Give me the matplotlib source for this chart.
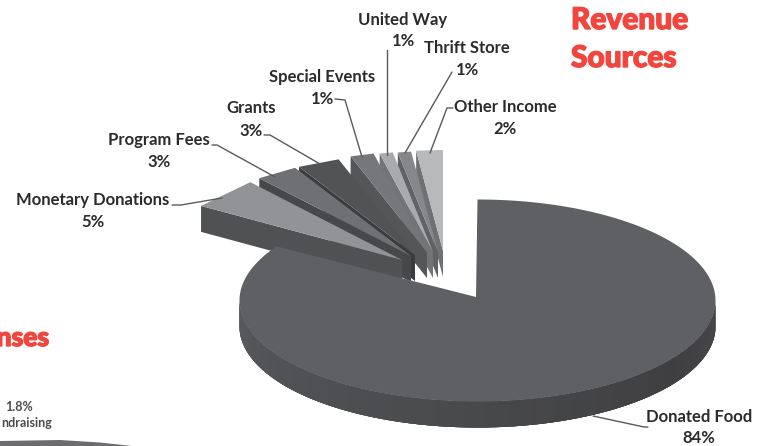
import numpy as np
import matplotlib
matplotlib.use("Agg")
import matplotlib.pyplot as plt
import matplotlib.patheffects as pe
from matplotlib.colors import to_rgb
from matplotlib.patches import Polygon

# slice shares, labels are the printed ones
slices = ["Donated Food", "Monetary Donations", "Program Fees", "Grants",
          "Special Events", "United Way", "Thrift Store", "Other Income"]
shares = [84.0, 5.0, 2.9, 2.9, 1.6, 0.9, 0.9, 1.8]
percents = ["84%", "5%", "3%", "3%", "1%", "1%", "1%", "2%"]

top_colors = ["#5f6064", "#929396", "#6f7073", "#525355", "#76777a", "#a9aaad", "#86878a", "#b8b9bb"]
side_colors = ["#4a4a4d", "#505153", "#47484a", "#3c3c3e", "#555658", "#737476", "#616264", "#707173"]

# where each exploded slice has its point, pixel coords
apex_x = [476, 402, 411, 415, 427, 433, 438, 443]
apex_y = [297, 260, 256, 255, 252, 252, 252, 251]

RX, RY = 238, 101
DEPTH = 26
TEXT = "#2b2b2d"
LINE = "#5a5a5c"
RED = "#f1453d"


def rim(a0, a1, ax0, ay0, n=60):
    """Outer rim of a slice, angles in degrees clockwise from 12 o'clock."""
    t = np.radians(np.linspace(a0, a1, n))
    return ax0 + RX * np.sin(t), ay0 - RY * np.cos(t)


fig = plt.figure(figsize=(7.62, 4.46), dpi=100)
ax = fig.add_axes([0, 0, 1, 1])
ax.set_xlim(0, 762)
ax.set_ylim(446, 0)
ax.axis("off")

edges = np.concatenate([[0], np.cumsum(shares) / np.sum(shares) * 360])

# exploded slices, right one first so the left ones sit on top
for i in range(len(slices) - 1, 0, -1):
    x, y = rim(edges[i], edges[i + 1], apex_x[i], apex_y[i], n=2)
    side = [(x[0], y[0]), (x[0], y[0] + DEPTH), (apex_x[i], apex_y[i] + DEPTH), (apex_x[i], apex_y[i])]
    ax.add_patch(Polygon(side, closed=True, fc=side_colors[i], ec="none", zorder=2))
    pts = np.column_stack([np.r_[apex_x[i], x], np.r_[apex_y[i], y]])
    ax.add_patch(Polygon(pts, closed=True, fc=top_colors[i], ec="none", zorder=2))

# big slice: front wall as shaded strips, then the top
cx, cy = 477.5, 300.5
wall_stops = [90, 125, 180, 240, 270]
wall_cols = ["#48484b", "#3f3f41", "#48494b", "#525356", "#5a5b5e"]
wall_rgb = np.array([to_rgb(c) for c in wall_cols])
strips = np.arange(90, 270, 1.0)
for a in strips:
    x, y = rim(a, min(a + 4, 270), cx, cy, n=7)
    quad = np.column_stack([np.r_[x, x[::-1]], np.r_[y, y[::-1] + DEPTH]])
    col = [np.interp(a, wall_stops, wall_rgb[:, k]) for k in range(3)]
    ax.add_patch(Polygon(quad, closed=True, fc=col, ec="none", zorder=3))

x, y = rim(edges[0], edges[1], cx, cy, n=240)
pts = np.column_stack([np.r_[apex_x[0], x], np.r_[apex_y[0], y]])
ax.add_patch(Polygon(pts, closed=True, fc=top_colors[0], ec="none", zorder=4))

# leader lines
leaders = [
    ([648, 644, 593], [427, 427, 416]),
    ([172, 181, 222], [205, 205, 198]),
    ([212, 217, 275], [145, 145, 177]),
    ([264, 270, 320], [135, 135, 164]),
    ([335, 345, 362], [99, 100, 157]),
    ([387, 387], [50, 155]),
    ([452, 405], [72, 153]),
    ([453, 447, 430], [108, 108, 153]),
]
for lx, ly in leaders:
    ax.plot(lx, ly, color=LINE, lw=1.0, zorder=5, solid_capstyle="round")

# labels, name above percent
label_x = [699, 93, 159, 251, 322, 403, 467, 505]
label_y = [417, 200, 140, 108, 77, 20, 48, 107]
gap = [21, 22, 22, 23, 22, 21, 22, 22]
for i, name in enumerate(slices):
    ax.text(label_x[i], label_y[i], name, ha="center", va="center", fontsize=12,
            fontfamily="Lato", fontweight="bold", color=TEXT, zorder=6)
    ax.text(label_x[i], label_y[i] + gap[i], percents[i], ha="center", va="center", fontsize=12,
            fontfamily="Lato", fontweight="bold", color=TEXT, zorder=6)

# title and the clipped bits of the neighbouring chart
heavy = [pe.withStroke(linewidth=1.0, foreground=RED)]
ax.text(571, 20, "Revenue", ha="left", va="center", fontsize=21.5, fontfamily="Lato",
        fontweight="black", color=RED, path_effects=heavy)
ax.text(571, 58, "Sources", ha="left", va="center", fontsize=21.5, fontfamily="Lato",
        fontweight="black", color=RED, path_effects=heavy)
ax.text(49, 338, "nses", ha="right", va="center", fontsize=19, fontfamily="Lato",
        fontweight="black", color=RED, path_effects=heavy)
ax.text(19, 407, "1.8%", ha="center", va="center", fontsize=9, fontfamily="Lato",
        fontweight="bold", color="#4c4c4f")
ax.text(52, 423, "ndraising", ha="right", va="center", fontsize=9, fontfamily="Lato",
        fontweight="bold", color="#4c4c4f")
ax.add_patch(Polygon([(0, 441), (60, 440), (100, 442.5), (132, 446), (0, 446)], closed=True,
                     fc="#6c6c70", ec="none"))

fig.savefig("out.png", dpi=100)
